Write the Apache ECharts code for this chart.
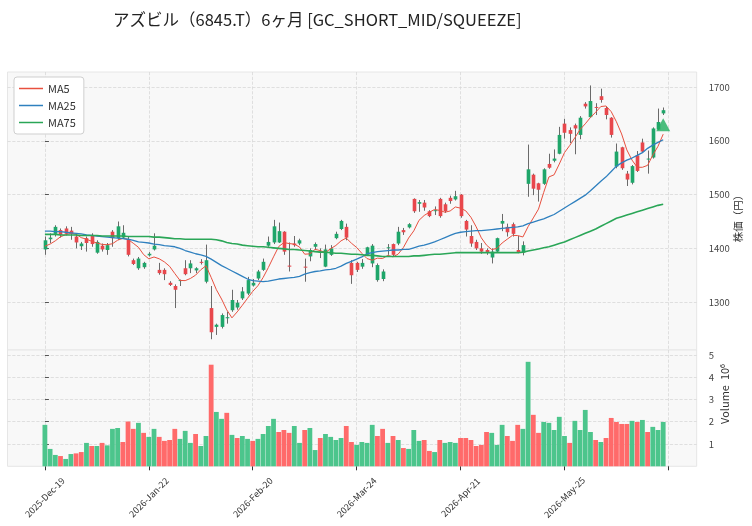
<!DOCTYPE html>
<html>
<head>
<meta charset="utf-8">
<script src="https://cdn.jsdelivr.net/npm/echarts@6/dist/echarts.min.js"></script>
<style>
  html, body { margin: 0; padding: 0; background: #fff; }
  #chart { width: 752px; height: 526px; }
</style>
</head>
<body>
<div id="chart"></div>
<script>
/* azbil 6M candles + MA5/25/75 + volume panel */
const dates = [
  '2025-Dec-19','2025-Dec-22','2025-Dec-23','2025-Dec-24','2025-Dec-25','2025-Dec-26','2025-Dec-29','2025-Dec-30',
  '2026-Jan-05','2026-Jan-06','2026-Jan-07','2026-Jan-08','2026-Jan-09','2026-Jan-13','2026-Jan-14','2026-Jan-15','2026-Jan-16',
  '2026-Jan-19','2026-Jan-20','2026-Jan-21','2026-Jan-22','2026-Jan-23','2026-Jan-26','2026-Jan-27','2026-Jan-28','2026-Jan-29','2026-Jan-30',
  '2026-Feb-02','2026-Feb-03','2026-Feb-04','2026-Feb-05','2026-Feb-06','2026-Feb-09','2026-Feb-10','2026-Feb-12','2026-Feb-13',
  '2026-Feb-16','2026-Feb-17','2026-Feb-18','2026-Feb-19','2026-Feb-20','2026-Feb-24','2026-Feb-25','2026-Feb-26','2026-Feb-27',
  '2026-Mar-02','2026-Mar-03','2026-Mar-04','2026-Mar-05','2026-Mar-06','2026-Mar-09','2026-Mar-10','2026-Mar-11','2026-Mar-12','2026-Mar-13',
  '2026-Mar-16','2026-Mar-17','2026-Mar-18','2026-Mar-19','2026-Mar-23','2026-Mar-24','2026-Mar-25','2026-Mar-26','2026-Mar-27','2026-Mar-30','2026-Mar-31',
  '2026-Apr-01','2026-Apr-02','2026-Apr-03','2026-Apr-06','2026-Apr-07','2026-Apr-08','2026-Apr-09','2026-Apr-10',
  '2026-Apr-13','2026-Apr-14','2026-Apr-15','2026-Apr-16','2026-Apr-17','2026-Apr-20','2026-Apr-21','2026-Apr-22','2026-Apr-23','2026-Apr-24',
  '2026-Apr-27','2026-Apr-28','2026-Apr-30','2026-May-01','2026-May-07','2026-May-08',
  '2026-May-11','2026-May-12','2026-May-13','2026-May-14','2026-May-15','2026-May-18','2026-May-19','2026-May-20','2026-May-21','2026-May-22',
  '2026-May-25','2026-May-26','2026-May-27','2026-May-28','2026-May-29',
  '2026-Jun-01','2026-Jun-02','2026-Jun-03','2026-Jun-04','2026-Jun-05','2026-Jun-08','2026-Jun-09','2026-Jun-10','2026-Jun-11','2026-Jun-12',
  '2026-Jun-15','2026-Jun-16','2026-Jun-17','2026-Jun-18','2026-Jun-19'
];

const opens = [1398,1417,1427,1434,1437,1433,1422,1404,1419,1425, 1392,1405,1397,1431,1419,1420,1417,1378,1363,1365,
  1387,1398,1360,1360,1336,1330,1340,1363,1363,1359, 1375,1338,1289,1254,1254,1270,1285,1290,1307,1316,
  1331,1344,1360,1405,1411,1411,1431,1368,1409,1409, 1366,1385,1403,1394,1366,1388,1419,1436,1440,1373,
  1373,1366,1388,1372,1341,1343,1401,1408,1409,1434, 1439,1492,1483,1485,1469,1470,1492,1482,1494,1491,
  1500,1451,1423,1412,1400,1397,1383,1394,1446,1440, 1445,1397,1392,1520,1537,1521,1520,1557,1563,1576,
  1632,1620,1629,1611,1669,1644,1663,1683,1661,1643, 1552,1588,1539,1522,1573,1597,1566,1569,1621,1651];
const closes = [1415,1420,1440,1425,1427,1428,1411,1409,1410,1408, 1412,1398,1406,1419,1441,1429,1388,1371,1381,1373,
  1390,1405,1354,1352,1332,1323,1341,1352,1372,1363, 1373,1378,1244,1258,1276,1272,1304,1299,1320,1341,
  1336,1357,1375,1412,1441,1432,1394,1366,1406,1415, 1365,1397,1408,1394,1398,1400,1427,1451,1420,1350,
  1360,1373,1402,1405,1369,1357,1402,1388,1431,1430, 1445,1469,1486,1476,1460,1471,1460,1469,1488,1497,
  1460,1435,1409,1400,1394,1392,1394,1419,1451,1430, 1427,1392,1406,1547,1511,1509,1547,1550,1567,1611,
  1615,1613,1623,1643,1664,1674,1662,1676,1648,1611, 1580,1549,1528,1553,1544,1580,1567,1623,1635,1657];
const lows = [1388,1410,1422,1420,1424,1416,1400,1397,1394,1403, 1390,1394,1388,1403,1416,1418,1385,1369,1360,1362,
  1385,1396,1351,1341,1330,1289,1330,1350,1354,1354, 1370,1335,1231,1239,1251,1260,1282,1286,1304,1313,
  1329,1341,1358,1403,1408,1410,1388,1357,1403,1406, 1338,1376,1397,1382,1365,1386,1417,1434,1415,1334,
  1356,1362,1386,1365,1338,1339,1388,1385,1406,1425, 1437,1466,1468,1470,1458,1462,1457,1466,1483,1489,
  1457,1422,1403,1397,1390,1388,1372,1392,1432,1422, 1422,1391,1387,1496,1499,1487,1518,1548,1560,1575,
  1604,1596,1575,1603,1660,1643,1648,1671,1640,1606, 1549,1546,1516,1519,1542,1578,1539,1567,1620,1648];
const highs = [1422,1428,1443,1437,1441,1440,1426,1412,1422,1428, 1415,1409,1410,1434,1450,1443,1422,1381,1384,1375,
  1393,1428,1373,1363,1339,1333,1342,1378,1378,1365, 1380,1407,1330,1260,1279,1282,1323,1304,1328,1347,
  1343,1360,1381,1422,1453,1448,1432,1411,1423,1418, 1381,1400,1411,1400,1407,1406,1431,1453,1446,1378,
  1375,1380,1403,1408,1372,1361,1408,1409,1440,1438, 1447,1493,1490,1490,1471,1478,1494,1485,1498,1507,
  1501,1453,1443,1416,1410,1400,1400,1420,1464,1446, 1448,1423,1413,1593,1539,1522,1549,1576,1584,1626,
  1641,1625,1632,1646,1672,1703,1670,1697,1663,1644, 1595,1589,1544,1555,1581,1604,1582,1625,1660,1662];
// volume in millions of shares
const volumes = [1.86,0.78,0.51,0.46,0.33,0.55,0.58,0.64,1.05,0.91, 0.91,1.05,0.94,1.68,1.72,1.09,2.01,1.68,1.95,1.50,
  1.32,1.68,1.32,1.14,1.18,1.68,1.23,1.59,1.05,1.45, 0.91,1.36,4.56,2.44,2.13,2.40,1.41,1.27,1.36,1.23,
  1.14,1.23,1.45,1.81,2.13,1.54,1.63,1.50,1.81,1.05, 1.63,1.72,0.73,1.27,1.45,1.32,1.18,1.27,1.81,1.09,
  0.96,1.09,1.05,1.86,1.36,1.68,1.05,1.36,1.18,0.82, 0.78,1.63,1.14,1.18,0.69,0.64,1.18,1.05,1.09,1.05,
  1.27,1.27,1.18,0.91,0.96,1.54,1.50,0.96,1.86,1.36, 1.14,1.86,1.68,4.69,2.31,1.50,1.99,1.95,1.63,2.22,
  1.36,1.05,2.04,1.63,2.53,1.54,1.18,1.09,1.27,2.17, 1.99,1.90,1.90,2.04,1.99,2.08,1.54,1.77,1.63,1.99];
// closes before the window, needed for the first MA5 points
const prevCloses = [1400, 1410, 1387, 1408];
const ma25 = [1432,1432,1431,1431,1430,1429,1428,1427,1425,1424, 1423,1422,1421,1420,1419,1418,1417,1415,1412,1411,
  1410,1408,1407,1405,1404,1403,1400,1396,1393,1390, 1388,1385,1380,1374,1368,1363,1358,1353,1348,1343,
  1340,1339,1338,1339,1341,1343,1344,1345,1346,1348, 1352,1355,1357,1358,1360,1361,1363,1367,1372,1376,
  1380,1384,1390,1392,1394,1395,1396,1397,1397,1398, 1398,1401,1404,1406,1409,1412,1416,1420,1424,1428,
  1430,1431,1432,1433,1433,1434,1435,1436,1437,1438, 1439,1440,1442,1446,1449,1452,1455,1459,1463,1469,
  1475,1481,1487,1493,1499,1507,1516,1525,1533,1543, 1553,1559,1564,1568,1573,1578,1586,1592,1597,1602];
const ma75 = [1426,1426,1426,1425,1425,1425,1425,1424,1424,1424, 1424,1423,1423,1423,1423,1423,1422,1422,1422,1422,
  1422,1421,1421,1420,1419,1418,1418,1417,1417,1417, 1417,1417,1417,1416,1414,1411,1409,1408,1406,1405,
  1404,1403,1403,1402,1401,1400,1399,1398,1398,1397, 1396,1395,1394,1393,1393,1392,1391,1391,1390,1389,
  1389,1388,1387,1387,1386,1385,1385,1385,1385,1385, 1385,1386,1386,1387,1388,1389,1389,1390,1391,1392,
  1392,1392,1392,1392,1392,1392,1392,1392,1392,1392, 1392,1392,1393,1395,1397,1399,1401,1403,1406,1409,
  1412,1416,1420,1424,1428,1432,1436,1441,1446,1451, 1456,1459,1462,1465,1468,1471,1474,1477,1480,1482];
const signalIndex = [119];
const signalPrice = [1630];
const xTicks = [0, 20, 40, 60, 80, 100, 120];
const priceTicks = [1300, 1400, 1500, 1600, 1700];
const volTicks = [1, 2, 3, 4, 5];

const FONT = '"Noto Sans CJK JP", "Noto Sans", sans-serif';
const UP = '#1fa66a', DOWN = '#e8474c', WICK = '#6a6a6a';
const VOL_UP = '#4cc58c', VOL_DOWN = '#ff6a6a';
const GRID_LINE = { color: '#d8d8d8', type: 'dashed', width: 0.8 };

const allCloses = prevCloses.concat(closes);
const ma5 = closes.map((c, i) => {
  const w = allCloses.slice(i, i + 5);
  return +(w.reduce((s, v) => s + v, 0) / 5).toFixed(1);
});

function renderCandle(params, api) {
  const x = api.value(0), o = api.value(1), c = api.value(2), lo = api.value(3), hi = api.value(4);
  const pHi = api.coord([x, hi]), pLo = api.coord([x, lo]);
  const pO = api.coord([x, o]), pC = api.coord([x, c]);
  const w = api.size([1, 0])[0] * 0.7;
  const cx = Math.round(pO[0]) + 0.5;
  const y0 = Math.min(pO[1], pC[1]);
  const h = Math.max(Math.abs(pO[1] - pC[1]), 1);
  return { type: 'group', children: [
    { type: 'line', shape: { x1: cx, y1: pHi[1], x2: cx, y2: pLo[1] }, style: { stroke: WICK, lineWidth: 1 } },
    { type: 'rect', shape: { x: cx - w / 2, y: y0, width: w, height: h }, style: { fill: c >= o ? UP : DOWN } }
  ]};
}

const chart = echarts.init(document.getElementById('chart'));
const xBase = { type: 'value', min: -7.2, max: 125.45, axisLine: { show: false } };
const yLabel = { fontSize: 9.5, color: '#444', fontFamily: FONT, margin: 12, formatter: v => String(v) };

chart.setOption({
  animation: false,
  textStyle: { fontFamily: FONT },
  title: { text: 'アズビル（6845.T）6ヶ月 [GC_SHORT_MID/SQUEEZE]', left: 108, top: 6,
    textStyle: { fontSize: 16.5, fontWeight: 'normal', color: '#222', fontFamily: FONT } },
  legend: { data: ['MA5', 'MA25', 'MA75'], orient: 'vertical', left: 14, top: 77,
    backgroundColor: '#fff', borderColor: '#cfcfcf', borderWidth: 1, borderRadius: 3,
    padding: [5, 8, 5, 5], icon: 'rect', itemWidth: 24, itemHeight: 1.5, itemGap: 4,
    textStyle: { fontSize: 11, color: '#333', fontFamily: FONT, lineHeight: 13 } },
  grid: [
    { left: 7.5, right: 55.3, top: 72, height: 278, show: true, backgroundColor: '#f8f8f8', borderColor: '#e6e6e6', borderWidth: 1 },
    { left: 7.5, right: 55.3, top: 350, height: 116.3, show: true, backgroundColor: '#f8f8f8', borderColor: '#e6e6e6', borderWidth: 1 }
  ],
  xAxis: [
    Object.assign({ gridIndex: 0,
      axisTick: { show: false, customValues: xTicks },
      axisLabel: { show: false, customValues: xTicks },
      splitLine: { show: true, lineStyle: GRID_LINE } }, xBase),
    Object.assign({ gridIndex: 1,
      axisTick: { show: true, length: 4, customValues: xTicks, lineStyle: { color: '#333' } },
      axisLabel: { customValues: xTicks, formatter: v => dates[v] || '', rotate: 45, align: 'center',
        verticalAlign: 'middle', margin: 31, fontSize: 9, color: '#333', fontFamily: FONT },
      splitLine: { show: true, lineStyle: GRID_LINE } }, xBase)
  ],
  yAxis: [
    { type: 'value', gridIndex: 0, position: 'right', min: 1211, max: 1728,
      axisLine: { show: false },
      axisTick: { show: true, length: 4, customValues: priceTicks, lineStyle: { color: '#555' } },
      axisLabel: Object.assign({ customValues: priceTicks }, yLabel),
      splitLine: { show: true, lineStyle: GRID_LINE } },
    { type: 'value', gridIndex: 1, position: 'right', min: 0, max: 5.22,
      axisLine: { show: false },
      axisTick: { show: true, length: 4, customValues: volTicks, lineStyle: { color: '#555' } },
      axisLabel: Object.assign({ customValues: volTicks }, yLabel),
      splitLine: { show: true, lineStyle: GRID_LINE } }
  ],
  graphic: [
    { type: 'text', x: 738, y: 216, rotation: Math.PI / 2,
      style: { text: '株価（円）', fontSize: 10.5, fill: '#333', fontFamily: FONT, align: 'center', verticalAlign: 'middle' } },
    { type: 'text', x: 725, y: 394, rotation: Math.PI / 2,
      style: { text: 'Volume  10⁶', fontSize: 11, fill: '#333', fontFamily: FONT, align: 'center', verticalAlign: 'middle' } }
  ],
  series: [
    { name: 'candles', type: 'custom', xAxisIndex: 0, yAxisIndex: 0, z: 2, clip: true,
      renderItem: renderCandle, encode: { x: 0, y: [1, 2, 3, 4] },
      data: opens.map((o, i) => [i, o, closes[i], lows[i], highs[i]]) },
    { name: 'MA5', type: 'line', xAxisIndex: 0, yAxisIndex: 0, z: 3, symbol: 'none', color: '#e8503f',
      lineStyle: { width: 1, color: '#e8503f' }, data: ma5.map((v, i) => [i, v]) },
    { name: 'MA25', type: 'line', xAxisIndex: 0, yAxisIndex: 0, z: 3, symbol: 'none', color: '#2f80bf',
      lineStyle: { width: 1.3, color: '#2f80bf' }, data: ma25.map((v, i) => [i, v]) },
    { name: 'MA75', type: 'line', xAxisIndex: 0, yAxisIndex: 0, z: 3, symbol: 'none', color: '#2aa657',
      lineStyle: { width: 1.6, color: '#2aa657' }, data: ma75.map((v, i) => [i, v]) },
    { name: 'signal', type: 'scatter', xAxisIndex: 0, yAxisIndex: 0, z: 4, symbol: 'triangle', symbolSize: [14, 13],
      itemStyle: { color: '#1fae5e' }, data: signalIndex.map((x, k) => [x, signalPrice[k]]) },
    { name: 'volume', type: 'bar', xAxisIndex: 1, yAxisIndex: 1, barWidth: 4.8,
      data: volumes.map((v, i) => ({ value: [i, v],
        itemStyle: { color: closes[i] >= (i ? closes[i - 1] : prevCloses[3]) ? VOL_UP : VOL_DOWN } })) }
  ]
});
</script>
</body>
</html>
